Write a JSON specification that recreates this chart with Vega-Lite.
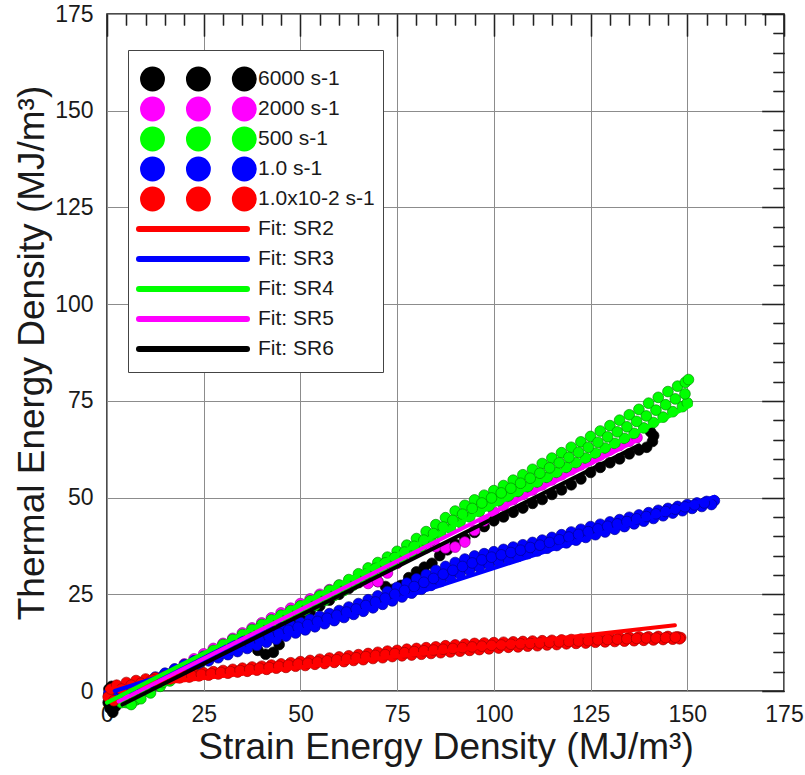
{
  "$schema": "https://vega.github.io/schema/vega-lite/v6.json",
  "width": 677,
  "height": 677,
  "autosize": "none",
  "padding": {"left": 107, "top": 14, "right": 21, "bottom": 84},
  "background": "white",
  "config": {
    "view": {"stroke": "#111", "strokeWidth": 1.5},
    "font": "Liberation Sans",
    "axis": {"domain": false, "labelFont": "Liberation Sans", "titleFont": "Liberation Sans", "labelColor": "#1a1a1a", "titleColor": "#1a1a1a", "tickColor": "#222", "tickWidth": 1.3, "titleFontWeight": "normal"}
  },
  "datasets": {
    "pts": [
      {"s":"6000 s-1","x":0.3,"y":-3},{"s":"6000 s-1","x":0.8,"y":-4.5},{"s":"6000 s-1","x":1.5,"y":-5.5},{"s":"6000 s-1","x":2.2,"y":-4},{"s":"6000 s-1","x":2.6,"y":-1.5},{"s":"6000 s-1","x":2.2,"y":0.8},{"s":"6000 s-1","x":1.2,"y":1.2},{"s":"6000 s-1","x":0.5,"y":0.5},{"s":"6000 s-1","x":5,"y":0.5},{"s":"6000 s-1","x":7.5,"y":0.3},{"s":"6000 s-1","x":10.5,"y":0.2},{"s":"6000 s-1","x":12.5,"y":1.5},{"s":"6000 s-1","x":15,"y":3},{"s":"6000 s-1","x":17.5,"y":4.5},{"s":"6000 s-1","x":20,"y":6},{"s":"6000 s-1","x":22.5,"y":7.5},{"s":"6000 s-1","x":25,"y":9},{"s":"6000 s-1","x":27.5,"y":10.5},{"s":"6000 s-1","x":30,"y":12},{"s":"6000 s-1","x":32.5,"y":13},{"s":"6000 s-1","x":35,"y":14},{"s":"6000 s-1","x":36.5,"y":14.5},{"s":"6000 s-1","x":37.5,"y":12.5},{"s":"6000 s-1","x":39,"y":10.5},{"s":"6000 s-1","x":41,"y":9.5},{"s":"6000 s-1","x":43,"y":10},{"s":"6000 s-1","x":44.5,"y":12},{"s":"6000 s-1","x":46,"y":14.5},{"s":"6000 s-1","x":47.5,"y":16.5},{"s":"6000 s-1","x":49,"y":18.5},{"s":"6000 s-1","x":50,"y":19.5},{"s":"6000 s-1","x":52.5,"y":20.5},{"s":"6000 s-1","x":55,"y":22},{"s":"6000 s-1","x":57.5,"y":23.5},{"s":"6000 s-1","x":60,"y":25},{"s":"6000 s-1","x":62.5,"y":26.5},{"s":"6000 s-1","x":65,"y":28},{"s":"6000 s-1","x":67.5,"y":28.8},{"s":"6000 s-1","x":70,"y":28.3},{"s":"6000 s-1","x":72,"y":27},{"s":"6000 s-1","x":74,"y":26.3},{"s":"6000 s-1","x":76,"y":27.3},{"s":"6000 s-1","x":78,"y":29.3},{"s":"6000 s-1","x":80,"y":30.8},{"s":"6000 s-1","x":82,"y":32},{"s":"6000 s-1","x":84,"y":33},{"s":"6000 s-1","x":86,"y":35},{"s":"6000 s-1","x":88,"y":36.5},{"s":"6000 s-1","x":90,"y":38},{"s":"6000 s-1","x":92.5,"y":39.5},{"s":"6000 s-1","x":95,"y":41},{"s":"6000 s-1","x":97.5,"y":42.5},{"s":"6000 s-1","x":100,"y":44},{"s":"6000 s-1","x":102.5,"y":45},{"s":"6000 s-1","x":105,"y":46.2},{"s":"6000 s-1","x":107.5,"y":47.3},{"s":"6000 s-1","x":110,"y":48.5},{"s":"6000 s-1","x":112.5,"y":49.5},{"s":"6000 s-1","x":115,"y":50.8},{"s":"6000 s-1","x":117.5,"y":52},{"s":"6000 s-1","x":120,"y":53.3},{"s":"6000 s-1","x":122.5,"y":54.8},{"s":"6000 s-1","x":125,"y":56.5},{"s":"6000 s-1","x":127.5,"y":57.8},{"s":"6000 s-1","x":130,"y":59},{"s":"6000 s-1","x":132.5,"y":60},{"s":"6000 s-1","x":135,"y":61.3},{"s":"6000 s-1","x":137.5,"y":62.3},{"s":"6000 s-1","x":139.5,"y":63},{"s":"6000 s-1","x":141,"y":64.5},{"s":"6000 s-1","x":141.3,"y":66},{"s":"6000 s-1","x":140.5,"y":67},
      {"s":"2000 s-1","x":0.5,"y":-1},{"s":"2000 s-1","x":2.5,"y":-1.5},{"s":"2000 s-1","x":5,"y":-1},{"s":"2000 s-1","x":7.5,"y":-0.5},{"s":"2000 s-1","x":10,"y":0.5},{"s":"2000 s-1","x":12.5,"y":1.5},{"s":"2000 s-1","x":15,"y":4.3},{"s":"2000 s-1","x":17.5,"y":5.6},{"s":"2000 s-1","x":20,"y":7},{"s":"2000 s-1","x":22.5,"y":8.3},{"s":"2000 s-1","x":25,"y":9.6},{"s":"2000 s-1","x":27.5,"y":11},{"s":"2000 s-1","x":30,"y":12.3},{"s":"2000 s-1","x":32.5,"y":13.6},{"s":"2000 s-1","x":35,"y":15},{"s":"2000 s-1","x":37.5,"y":16.3},{"s":"2000 s-1","x":40,"y":17.6},{"s":"2000 s-1","x":42.5,"y":18.9},{"s":"2000 s-1","x":45,"y":20.2},{"s":"2000 s-1","x":47.5,"y":21.4},{"s":"2000 s-1","x":50,"y":22.6},{"s":"2000 s-1","x":52.5,"y":23.8},{"s":"2000 s-1","x":55,"y":25},{"s":"2000 s-1","x":57.5,"y":26.2},{"s":"2000 s-1","x":60,"y":27.3},{"s":"2000 s-1","x":62.5,"y":28.2},{"s":"2000 s-1","x":65,"y":28.5},{"s":"2000 s-1","x":67.5,"y":27.8},{"s":"2000 s-1","x":70,"y":28.3},{"s":"2000 s-1","x":72.5,"y":30.5},{"s":"2000 s-1","x":75,"y":33},{"s":"2000 s-1","x":77.5,"y":35},{"s":"2000 s-1","x":80,"y":36.2},{"s":"2000 s-1","x":82.5,"y":37},{"s":"2000 s-1","x":85,"y":37.3},{"s":"2000 s-1","x":87.5,"y":37},{"s":"2000 s-1","x":90,"y":37.2},{"s":"2000 s-1","x":92.5,"y":38.5},{"s":"2000 s-1","x":95,"y":41.5},{"s":"2000 s-1","x":97.5,"y":44},{"s":"2000 s-1","x":100,"y":46.3},{"s":"2000 s-1","x":102.5,"y":48},{"s":"2000 s-1","x":105,"y":49.5},{"s":"2000 s-1","x":107.5,"y":50.8},{"s":"2000 s-1","x":110,"y":52},{"s":"2000 s-1","x":112.5,"y":53.3},{"s":"2000 s-1","x":115,"y":54.6},{"s":"2000 s-1","x":117.5,"y":55.9},{"s":"2000 s-1","x":120,"y":57.2},{"s":"2000 s-1","x":122.5,"y":58.5},{"s":"2000 s-1","x":125,"y":59.8},{"s":"2000 s-1","x":127.5,"y":61},{"s":"2000 s-1","x":130,"y":62.3},{"s":"2000 s-1","x":132.5,"y":63.5},{"s":"2000 s-1","x":135,"y":64.6},{"s":"2000 s-1","x":137,"y":65.5},
      {"s":"500 s-1","x":0.5,"y":-1},{"s":"500 s-1","x":2.5,"y":-2},{"s":"500 s-1","x":5,"y":-3},{"s":"500 s-1","x":7.5,"y":-2.3},{"s":"500 s-1","x":10,"y":0},{"s":"500 s-1","x":12.5,"y":1.8},{"s":"500 s-1","x":15,"y":3.2},{"s":"500 s-1","x":17.5,"y":4.6},{"s":"500 s-1","x":20,"y":6},{"s":"500 s-1","x":22.5,"y":7.5},{"s":"500 s-1","x":25,"y":9},{"s":"500 s-1","x":27.5,"y":10.5},{"s":"500 s-1","x":30,"y":12},{"s":"500 s-1","x":32.5,"y":13.3},{"s":"500 s-1","x":35,"y":14.6},{"s":"500 s-1","x":37.5,"y":15.9},{"s":"500 s-1","x":40,"y":17.2},{"s":"500 s-1","x":42.5,"y":18.4},{"s":"500 s-1","x":45,"y":19.6},{"s":"500 s-1","x":47.5,"y":20.8},{"s":"500 s-1","x":50,"y":22},{"s":"500 s-1","x":52.5,"y":23.3},{"s":"500 s-1","x":55,"y":24.6},{"s":"500 s-1","x":57.5,"y":26},{"s":"500 s-1","x":60,"y":27.4},{"s":"500 s-1","x":62.5,"y":28.8},{"s":"500 s-1","x":65,"y":30.3},{"s":"500 s-1","x":67.5,"y":31.8},{"s":"500 s-1","x":70,"y":33.2},{"s":"500 s-1","x":72.5,"y":34.6},{"s":"500 s-1","x":75,"y":36.1},{"s":"500 s-1","x":77.5,"y":37.7},{"s":"500 s-1","x":80,"y":39.4},{"s":"500 s-1","x":82.5,"y":41.2},{"s":"500 s-1","x":85,"y":43},{"s":"500 s-1","x":87.5,"y":44.8},{"s":"500 s-1","x":90,"y":46.5},{"s":"500 s-1","x":92.5,"y":48},{"s":"500 s-1","x":95,"y":49.4},{"s":"500 s-1","x":97.5,"y":50.6},{"s":"500 s-1","x":100,"y":51.8},{"s":"500 s-1","x":102.5,"y":53.1},{"s":"500 s-1","x":105,"y":54.5},{"s":"500 s-1","x":107.5,"y":55.9},{"s":"500 s-1","x":110,"y":57.3},{"s":"500 s-1","x":112.5,"y":58.8},{"s":"500 s-1","x":115,"y":60.2},{"s":"500 s-1","x":117.5,"y":61.6},{"s":"500 s-1","x":120,"y":63},{"s":"500 s-1","x":122.5,"y":64.4},{"s":"500 s-1","x":125,"y":65.8},{"s":"500 s-1","x":127.5,"y":67.2},{"s":"500 s-1","x":130,"y":68.6},{"s":"500 s-1","x":132.5,"y":70},{"s":"500 s-1","x":135,"y":71.4},{"s":"500 s-1","x":137.5,"y":72.8},{"s":"500 s-1","x":140,"y":74.4},{"s":"500 s-1","x":142.5,"y":75.9},{"s":"500 s-1","x":145,"y":77.4},{"s":"500 s-1","x":147.5,"y":78.8},{"s":"500 s-1","x":149.5,"y":79.8},{"s":"500 s-1","x":150.3,"y":80.5},
      {"s":"500 s-1","x":1.75,"y":-2},{"s":"500 s-1","x":3.75,"y":-3},{"s":"500 s-1","x":6.25,"y":-3.5},{"s":"500 s-1","x":8.75,"y":-2},{"s":"500 s-1","x":11.25,"y":-0.5},{"s":"500 s-1","x":13.75,"y":1.2},{"s":"500 s-1","x":16.25,"y":2.6},{"s":"500 s-1","x":18.75,"y":4},{"s":"500 s-1","x":21.25,"y":5.4},{"s":"500 s-1","x":23.75,"y":6.8},{"s":"500 s-1","x":26.25,"y":8.2},{"s":"500 s-1","x":28.75,"y":9.6},{"s":"500 s-1","x":31.25,"y":11},{"s":"500 s-1","x":33.75,"y":12.3},{"s":"500 s-1","x":36.25,"y":13.6},{"s":"500 s-1","x":38.75,"y":14.9},{"s":"500 s-1","x":41.25,"y":16.1},{"s":"500 s-1","x":43.75,"y":17.3},{"s":"500 s-1","x":46.25,"y":18.5},{"s":"500 s-1","x":48.75,"y":19.7},{"s":"500 s-1","x":51.25,"y":20.9},{"s":"500 s-1","x":53.75,"y":22.1},{"s":"500 s-1","x":56.25,"y":23.4},{"s":"500 s-1","x":58.75,"y":24.7},{"s":"500 s-1","x":61.25,"y":26},{"s":"500 s-1","x":63.75,"y":27.4},{"s":"500 s-1","x":66.25,"y":28.8},{"s":"500 s-1","x":68.75,"y":30.2},{"s":"500 s-1","x":71.25,"y":31.6},{"s":"500 s-1","x":73.75,"y":33},{"s":"500 s-1","x":76.25,"y":34.4},{"s":"500 s-1","x":78.75,"y":35.8},{"s":"500 s-1","x":81.25,"y":37.3},{"s":"500 s-1","x":83.75,"y":38.9},{"s":"500 s-1","x":86.25,"y":40.5},{"s":"500 s-1","x":88.75,"y":42},{"s":"500 s-1","x":91.25,"y":43.6},{"s":"500 s-1","x":93.75,"y":45},{"s":"500 s-1","x":96.25,"y":46.4},{"s":"500 s-1","x":98.75,"y":47.8},{"s":"500 s-1","x":101.25,"y":49.2},{"s":"500 s-1","x":103.75,"y":50.4},{"s":"500 s-1","x":106.25,"y":51.6},{"s":"500 s-1","x":108.75,"y":52.8},{"s":"500 s-1","x":111.25,"y":54},{"s":"500 s-1","x":113.75,"y":55.2},{"s":"500 s-1","x":116.25,"y":56.5},{"s":"500 s-1","x":118.75,"y":57.8},{"s":"500 s-1","x":121.25,"y":59},{"s":"500 s-1","x":123.75,"y":60.2},{"s":"500 s-1","x":126.25,"y":61.5},{"s":"500 s-1","x":128.75,"y":62.8},{"s":"500 s-1","x":131.25,"y":64},{"s":"500 s-1","x":133.75,"y":65.3},{"s":"500 s-1","x":136.25,"y":66.6},{"s":"500 s-1","x":138.75,"y":68},{"s":"500 s-1","x":141.25,"y":69.4},{"s":"500 s-1","x":143.75,"y":70.8},{"s":"500 s-1","x":146.25,"y":72.2},{"s":"500 s-1","x":148.75,"y":73.5},{"s":"500 s-1","x":150,"y":74.5},
      {"s":"500 s-1","x":14.4,"y":2.2},{"s":"500 s-1","x":16.9,"y":3.6},{"s":"500 s-1","x":19.4,"y":5},{"s":"500 s-1","x":21.9,"y":6.4},{"s":"500 s-1","x":24.4,"y":7.8},{"s":"500 s-1","x":26.9,"y":9.3},{"s":"500 s-1","x":29.4,"y":10.7},{"s":"500 s-1","x":31.9,"y":12.2},{"s":"500 s-1","x":34.4,"y":13.5},{"s":"500 s-1","x":36.9,"y":14.8},{"s":"500 s-1","x":39.4,"y":16.1},{"s":"500 s-1","x":41.9,"y":17.3},{"s":"500 s-1","x":44.4,"y":18.5},{"s":"500 s-1","x":46.9,"y":19.7},{"s":"500 s-1","x":49.4,"y":20.9},{"s":"500 s-1","x":51.9,"y":22.1},{"s":"500 s-1","x":54.4,"y":23.4},{"s":"500 s-1","x":56.9,"y":24.7},{"s":"500 s-1","x":59.4,"y":26},{"s":"500 s-1","x":61.9,"y":27.4},{"s":"500 s-1","x":64.4,"y":28.8},{"s":"500 s-1","x":66.9,"y":30.2},{"s":"500 s-1","x":69.4,"y":31.7},{"s":"500 s-1","x":71.9,"y":33.1},{"s":"500 s-1","x":74.4,"y":34.5},{"s":"500 s-1","x":76.9,"y":35.9},{"s":"500 s-1","x":79.4,"y":37.4},{"s":"500 s-1","x":81.9,"y":39},{"s":"500 s-1","x":84.4,"y":40.7},{"s":"500 s-1","x":86.9,"y":42.4},{"s":"500 s-1","x":89.4,"y":44.1},{"s":"500 s-1","x":91.9,"y":45.7},{"s":"500 s-1","x":94.4,"y":47.2},{"s":"500 s-1","x":96.9,"y":48.6},{"s":"500 s-1","x":99.4,"y":49.9},{"s":"500 s-1","x":101.9,"y":51.2},{"s":"500 s-1","x":104.4,"y":52.4},{"s":"500 s-1","x":106.9,"y":53.7},{"s":"500 s-1","x":109.4,"y":55},{"s":"500 s-1","x":111.9,"y":56.3},{"s":"500 s-1","x":114.4,"y":57.7},{"s":"500 s-1","x":116.9,"y":59},{"s":"500 s-1","x":119.4,"y":60.4},{"s":"500 s-1","x":121.9,"y":61.7},{"s":"500 s-1","x":124.4,"y":63},{"s":"500 s-1","x":126.9,"y":64.3},{"s":"500 s-1","x":129.4,"y":65.7},{"s":"500 s-1","x":131.9,"y":67},{"s":"500 s-1","x":134.4,"y":68.3},{"s":"500 s-1","x":136.9,"y":69.7},{"s":"500 s-1","x":139.4,"y":71.1},{"s":"500 s-1","x":141.9,"y":72.6},{"s":"500 s-1","x":144.4,"y":74},{"s":"500 s-1","x":146.9,"y":75.5},{"s":"500 s-1","x":149.4,"y":76.8},
      {"s":"1.0 s-1","x":0.5,"y":-0.5},{"s":"1.0 s-1","x":2.5,"y":0.2},{"s":"1.0 s-1","x":5,"y":1},{"s":"1.0 s-1","x":7.5,"y":1.8},{"s":"1.0 s-1","x":10,"y":2.7},{"s":"1.0 s-1","x":12.5,"y":3.6},{"s":"1.0 s-1","x":15,"y":4.6},{"s":"1.0 s-1","x":17.5,"y":5.7},{"s":"1.0 s-1","x":20,"y":6.8},{"s":"1.0 s-1","x":22.5,"y":7.8},{"s":"1.0 s-1","x":25,"y":8.8},{"s":"1.0 s-1","x":27.5,"y":9.8},{"s":"1.0 s-1","x":30,"y":10.8},{"s":"1.0 s-1","x":32.5,"y":11.8},{"s":"1.0 s-1","x":35,"y":12.8},{"s":"1.0 s-1","x":37.5,"y":13.7},{"s":"1.0 s-1","x":40,"y":14.6},{"s":"1.0 s-1","x":42.5,"y":15.5},{"s":"1.0 s-1","x":45,"y":16.3},{"s":"1.0 s-1","x":47.5,"y":17},{"s":"1.0 s-1","x":50,"y":17.7},{"s":"1.0 s-1","x":52.5,"y":18.5},{"s":"1.0 s-1","x":55,"y":19.3},{"s":"1.0 s-1","x":57.5,"y":20},{"s":"1.0 s-1","x":60,"y":20.8},{"s":"1.0 s-1","x":62.5,"y":21.7},{"s":"1.0 s-1","x":65,"y":22.6},{"s":"1.0 s-1","x":67.5,"y":23.6},{"s":"1.0 s-1","x":70,"y":24.6},{"s":"1.0 s-1","x":72.5,"y":25.7},{"s":"1.0 s-1","x":75,"y":26.8},{"s":"1.0 s-1","x":77.5,"y":27.9},{"s":"1.0 s-1","x":80,"y":29},{"s":"1.0 s-1","x":82.5,"y":30.1},{"s":"1.0 s-1","x":85,"y":31.2},{"s":"1.0 s-1","x":87.5,"y":32.2},{"s":"1.0 s-1","x":90,"y":33.2},{"s":"1.0 s-1","x":92.5,"y":34.1},{"s":"1.0 s-1","x":95,"y":34.9},{"s":"1.0 s-1","x":97.5,"y":35.5},{"s":"1.0 s-1","x":100,"y":36},{"s":"1.0 s-1","x":102.5,"y":36.6},{"s":"1.0 s-1","x":105,"y":37.2},{"s":"1.0 s-1","x":107.5,"y":37.8},{"s":"1.0 s-1","x":110,"y":38.4},{"s":"1.0 s-1","x":112.5,"y":39},{"s":"1.0 s-1","x":115,"y":39.7},{"s":"1.0 s-1","x":117.5,"y":40.4},{"s":"1.0 s-1","x":120,"y":41.1},{"s":"1.0 s-1","x":122.5,"y":41.8},{"s":"1.0 s-1","x":125,"y":42.5},{"s":"1.0 s-1","x":127.5,"y":43.1},{"s":"1.0 s-1","x":130,"y":43.7},{"s":"1.0 s-1","x":132.5,"y":44.3},{"s":"1.0 s-1","x":135,"y":44.9},{"s":"1.0 s-1","x":137.5,"y":45.5},{"s":"1.0 s-1","x":140,"y":46.1},{"s":"1.0 s-1","x":142.5,"y":46.7},{"s":"1.0 s-1","x":145,"y":47.2},{"s":"1.0 s-1","x":147.5,"y":47.7},{"s":"1.0 s-1","x":150,"y":48.2},{"s":"1.0 s-1","x":152.5,"y":48.6},{"s":"1.0 s-1","x":155,"y":49},{"s":"1.0 s-1","x":157,"y":49.2},
      {"s":"1.0 s-1","x":1.75,"y":-1},{"s":"1.0 s-1","x":3.75,"y":0},{"s":"1.0 s-1","x":6.25,"y":0.7},{"s":"1.0 s-1","x":8.75,"y":1.4},{"s":"1.0 s-1","x":11.25,"y":2.2},{"s":"1.0 s-1","x":13.75,"y":3.1},{"s":"1.0 s-1","x":16.25,"y":4},{"s":"1.0 s-1","x":18.75,"y":5},{"s":"1.0 s-1","x":21.25,"y":6},{"s":"1.0 s-1","x":23.75,"y":7},{"s":"1.0 s-1","x":26.25,"y":7.8},{"s":"1.0 s-1","x":28.75,"y":8.6},{"s":"1.0 s-1","x":31.25,"y":9.4},{"s":"1.0 s-1","x":33.75,"y":10.2},{"s":"1.0 s-1","x":36.25,"y":11},{"s":"1.0 s-1","x":38.75,"y":11.8},{"s":"1.0 s-1","x":41.25,"y":12.6},{"s":"1.0 s-1","x":43.75,"y":13.4},{"s":"1.0 s-1","x":46.25,"y":14.2},{"s":"1.0 s-1","x":48.75,"y":15},{"s":"1.0 s-1","x":51.25,"y":15.8},{"s":"1.0 s-1","x":53.75,"y":16.6},{"s":"1.0 s-1","x":56.25,"y":17.4},{"s":"1.0 s-1","x":58.75,"y":18.2},{"s":"1.0 s-1","x":61.25,"y":19},{"s":"1.0 s-1","x":63.75,"y":19.8},{"s":"1.0 s-1","x":66.25,"y":20.6},{"s":"1.0 s-1","x":68.75,"y":21.5},{"s":"1.0 s-1","x":71.25,"y":22.4},{"s":"1.0 s-1","x":73.75,"y":23.3},{"s":"1.0 s-1","x":76.25,"y":24.3},{"s":"1.0 s-1","x":78.75,"y":25.3},{"s":"1.0 s-1","x":81.25,"y":26.3},{"s":"1.0 s-1","x":83.75,"y":27.3},{"s":"1.0 s-1","x":86.25,"y":28.3},{"s":"1.0 s-1","x":88.75,"y":29.3},{"s":"1.0 s-1","x":91.25,"y":30.3},{"s":"1.0 s-1","x":93.75,"y":31.2},{"s":"1.0 s-1","x":96.25,"y":32},{"s":"1.0 s-1","x":98.75,"y":32.7},{"s":"1.0 s-1","x":101.25,"y":33.4},{"s":"1.0 s-1","x":103.75,"y":34.1},{"s":"1.0 s-1","x":106.25,"y":34.8},{"s":"1.0 s-1","x":108.75,"y":35.5},{"s":"1.0 s-1","x":111.25,"y":36.2},{"s":"1.0 s-1","x":113.75,"y":36.9},{"s":"1.0 s-1","x":116.25,"y":37.6},{"s":"1.0 s-1","x":118.75,"y":38.3},{"s":"1.0 s-1","x":121.25,"y":39},{"s":"1.0 s-1","x":123.75,"y":39.7},{"s":"1.0 s-1","x":126.25,"y":40.4},{"s":"1.0 s-1","x":128.75,"y":41.1},{"s":"1.0 s-1","x":131.25,"y":41.8},{"s":"1.0 s-1","x":133.75,"y":42.5},{"s":"1.0 s-1","x":136.25,"y":43.2},{"s":"1.0 s-1","x":138.75,"y":43.9},{"s":"1.0 s-1","x":141.25,"y":44.6},{"s":"1.0 s-1","x":143.75,"y":45.3},{"s":"1.0 s-1","x":146.25,"y":46},{"s":"1.0 s-1","x":148.75,"y":46.6},{"s":"1.0 s-1","x":151.25,"y":47.2},{"s":"1.0 s-1","x":153.75,"y":47.7},{"s":"1.0 s-1","x":156.25,"y":48.2},
      {"s":"1.0 s-1","x":11.9,"y":2.9},{"s":"1.0 s-1","x":14.4,"y":3.8},{"s":"1.0 s-1","x":16.9,"y":4.8},{"s":"1.0 s-1","x":19.4,"y":5.8},{"s":"1.0 s-1","x":21.9,"y":6.9},{"s":"1.0 s-1","x":24.4,"y":7.9},{"s":"1.0 s-1","x":26.9,"y":8.8},{"s":"1.0 s-1","x":29.4,"y":9.7},{"s":"1.0 s-1","x":31.9,"y":10.6},{"s":"1.0 s-1","x":34.4,"y":11.5},{"s":"1.0 s-1","x":36.9,"y":12.4},{"s":"1.0 s-1","x":39.4,"y":13.2},{"s":"1.0 s-1","x":41.9,"y":14.1},{"s":"1.0 s-1","x":44.4,"y":14.9},{"s":"1.0 s-1","x":46.9,"y":15.7},{"s":"1.0 s-1","x":49.4,"y":16.5},{"s":"1.0 s-1","x":51.9,"y":17.2},{"s":"1.0 s-1","x":54.4,"y":18},{"s":"1.0 s-1","x":56.9,"y":18.8},{"s":"1.0 s-1","x":59.4,"y":19.6},{"s":"1.0 s-1","x":61.9,"y":20.4},{"s":"1.0 s-1","x":64.4,"y":21.2},{"s":"1.0 s-1","x":66.9,"y":22.1},{"s":"1.0 s-1","x":69.4,"y":23},{"s":"1.0 s-1","x":71.9,"y":24},{"s":"1.0 s-1","x":74.4,"y":25},{"s":"1.0 s-1","x":76.9,"y":26},{"s":"1.0 s-1","x":79.4,"y":27},{"s":"1.0 s-1","x":81.9,"y":28.1},{"s":"1.0 s-1","x":84.4,"y":29.1},{"s":"1.0 s-1","x":86.9,"y":30.2},{"s":"1.0 s-1","x":89.4,"y":31.2},{"s":"1.0 s-1","x":91.9,"y":32.2},{"s":"1.0 s-1","x":94.4,"y":33.1},{"s":"1.0 s-1","x":96.9,"y":33.9},{"s":"1.0 s-1","x":99.4,"y":34.6},{"s":"1.0 s-1","x":101.9,"y":35.2},{"s":"1.0 s-1","x":104.4,"y":35.8},{"s":"1.0 s-1","x":106.9,"y":36.4},{"s":"1.0 s-1","x":109.4,"y":37.1},{"s":"1.0 s-1","x":111.9,"y":37.7},{"s":"1.0 s-1","x":114.4,"y":38.4},{"s":"1.0 s-1","x":116.9,"y":39.1},{"s":"1.0 s-1","x":119.4,"y":39.8},{"s":"1.0 s-1","x":121.9,"y":40.5},{"s":"1.0 s-1","x":124.4,"y":41.2},{"s":"1.0 s-1","x":126.9,"y":41.9},{"s":"1.0 s-1","x":129.4,"y":42.6},{"s":"1.0 s-1","x":131.9,"y":43.2},{"s":"1.0 s-1","x":134.4,"y":43.8},{"s":"1.0 s-1","x":136.9,"y":44.5},{"s":"1.0 s-1","x":139.4,"y":45.1},{"s":"1.0 s-1","x":141.9,"y":45.8},{"s":"1.0 s-1","x":144.4,"y":46.4},{"s":"1.0 s-1","x":146.9,"y":47},{"s":"1.0 s-1","x":149.4,"y":47.6},{"s":"1.0 s-1","x":151.9,"y":48.1},{"s":"1.0 s-1","x":154.4,"y":48.6},
      {"s":"1.0x10-2 s-1","x":0.3,"y":-1.5},{"s":"1.0x10-2 s-1","x":1,"y":0.5},{"s":"1.0x10-2 s-1","x":2.5,"y":1.5},{"s":"1.0x10-2 s-1","x":5,"y":2.2},{"s":"1.0x10-2 s-1","x":7.5,"y":2.7},{"s":"1.0x10-2 s-1","x":10,"y":3.1},{"s":"1.0x10-2 s-1","x":12.5,"y":3.4},{"s":"1.0x10-2 s-1","x":15,"y":3.7},{"s":"1.0x10-2 s-1","x":17.5,"y":4},{"s":"1.0x10-2 s-1","x":20,"y":4.2},{"s":"1.0x10-2 s-1","x":22.5,"y":4.5},{"s":"1.0x10-2 s-1","x":25,"y":4.7},{"s":"1.0x10-2 s-1","x":27.5,"y":5},{"s":"1.0x10-2 s-1","x":30,"y":5.3},{"s":"1.0x10-2 s-1","x":32.5,"y":5.6},{"s":"1.0x10-2 s-1","x":35,"y":5.9},{"s":"1.0x10-2 s-1","x":37.5,"y":6.2},{"s":"1.0x10-2 s-1","x":40,"y":6.4},{"s":"1.0x10-2 s-1","x":42.5,"y":6.7},{"s":"1.0x10-2 s-1","x":45,"y":7},{"s":"1.0x10-2 s-1","x":47.5,"y":7.3},{"s":"1.0x10-2 s-1","x":50,"y":7.6},{"s":"1.0x10-2 s-1","x":52.5,"y":7.9},{"s":"1.0x10-2 s-1","x":55,"y":8.2},{"s":"1.0x10-2 s-1","x":57.5,"y":8.5},{"s":"1.0x10-2 s-1","x":60,"y":8.8},{"s":"1.0x10-2 s-1","x":62.5,"y":9.1},{"s":"1.0x10-2 s-1","x":65,"y":9.4},{"s":"1.0x10-2 s-1","x":67.5,"y":9.7},{"s":"1.0x10-2 s-1","x":70,"y":10},{"s":"1.0x10-2 s-1","x":72.5,"y":10.3},{"s":"1.0x10-2 s-1","x":75,"y":10.5},{"s":"1.0x10-2 s-1","x":77.5,"y":10.8},{"s":"1.0x10-2 s-1","x":80,"y":11},{"s":"1.0x10-2 s-1","x":82.5,"y":11.2},{"s":"1.0x10-2 s-1","x":85,"y":11.4},{"s":"1.0x10-2 s-1","x":87.5,"y":11.7},{"s":"1.0x10-2 s-1","x":90,"y":11.9},{"s":"1.0x10-2 s-1","x":92.5,"y":12.1},{"s":"1.0x10-2 s-1","x":95,"y":12.3},{"s":"1.0x10-2 s-1","x":97.5,"y":12.4},{"s":"1.0x10-2 s-1","x":100,"y":12.5},{"s":"1.0x10-2 s-1","x":102.5,"y":12.6},{"s":"1.0x10-2 s-1","x":105,"y":12.7},{"s":"1.0x10-2 s-1","x":107.5,"y":12.8},{"s":"1.0x10-2 s-1","x":110,"y":12.9},{"s":"1.0x10-2 s-1","x":112.5,"y":13},{"s":"1.0x10-2 s-1","x":115,"y":13.1},{"s":"1.0x10-2 s-1","x":117.5,"y":13.2},{"s":"1.0x10-2 s-1","x":120,"y":13.3},{"s":"1.0x10-2 s-1","x":122.5,"y":13.4},{"s":"1.0x10-2 s-1","x":125,"y":13.5},{"s":"1.0x10-2 s-1","x":127.5,"y":13.6},{"s":"1.0x10-2 s-1","x":130,"y":13.7},{"s":"1.0x10-2 s-1","x":132.5,"y":13.8},{"s":"1.0x10-2 s-1","x":135,"y":13.9},{"s":"1.0x10-2 s-1","x":137.5,"y":14},{"s":"1.0x10-2 s-1","x":140,"y":14},{"s":"1.0x10-2 s-1","x":142.5,"y":14.1},{"s":"1.0x10-2 s-1","x":145,"y":14.1},{"s":"1.0x10-2 s-1","x":147.5,"y":14},{"s":"1.0x10-2 s-1","x":148.3,"y":13.8},
      {"s":"1.0x10-2 s-1","x":1.75,"y":-2.5},{"s":"1.0x10-2 s-1","x":3.75,"y":0.5},{"s":"1.0x10-2 s-1","x":6.25,"y":1.5},{"s":"1.0x10-2 s-1","x":8.75,"y":2},{"s":"1.0x10-2 s-1","x":11.25,"y":2.5},{"s":"1.0x10-2 s-1","x":13.75,"y":2.8},{"s":"1.0x10-2 s-1","x":16.25,"y":3.1},{"s":"1.0x10-2 s-1","x":18.75,"y":3.4},{"s":"1.0x10-2 s-1","x":21.25,"y":3.6},{"s":"1.0x10-2 s-1","x":23.75,"y":3.9},{"s":"1.0x10-2 s-1","x":26.25,"y":4.1},{"s":"1.0x10-2 s-1","x":28.75,"y":4.4},{"s":"1.0x10-2 s-1","x":31.25,"y":4.6},{"s":"1.0x10-2 s-1","x":33.75,"y":4.9},{"s":"1.0x10-2 s-1","x":36.25,"y":5.1},{"s":"1.0x10-2 s-1","x":38.75,"y":5.4},{"s":"1.0x10-2 s-1","x":41.25,"y":5.6},{"s":"1.0x10-2 s-1","x":43.75,"y":5.9},{"s":"1.0x10-2 s-1","x":46.25,"y":6.1},{"s":"1.0x10-2 s-1","x":48.75,"y":6.4},{"s":"1.0x10-2 s-1","x":51.25,"y":6.6},{"s":"1.0x10-2 s-1","x":53.75,"y":6.9},{"s":"1.0x10-2 s-1","x":56.25,"y":7.1},{"s":"1.0x10-2 s-1","x":58.75,"y":7.4},{"s":"1.0x10-2 s-1","x":61.25,"y":7.6},{"s":"1.0x10-2 s-1","x":63.75,"y":7.9},{"s":"1.0x10-2 s-1","x":66.25,"y":8.1},{"s":"1.0x10-2 s-1","x":68.75,"y":8.4},{"s":"1.0x10-2 s-1","x":71.25,"y":8.6},{"s":"1.0x10-2 s-1","x":73.75,"y":8.9},{"s":"1.0x10-2 s-1","x":76.25,"y":9.1},{"s":"1.0x10-2 s-1","x":78.75,"y":9.3},{"s":"1.0x10-2 s-1","x":81.25,"y":9.5},{"s":"1.0x10-2 s-1","x":83.75,"y":9.7},{"s":"1.0x10-2 s-1","x":86.25,"y":9.9},{"s":"1.0x10-2 s-1","x":88.75,"y":10.1},{"s":"1.0x10-2 s-1","x":91.25,"y":10.3},{"s":"1.0x10-2 s-1","x":93.75,"y":10.5},{"s":"1.0x10-2 s-1","x":96.25,"y":10.7},{"s":"1.0x10-2 s-1","x":98.75,"y":10.9},{"s":"1.0x10-2 s-1","x":101.25,"y":11.1},{"s":"1.0x10-2 s-1","x":103.75,"y":11.3},{"s":"1.0x10-2 s-1","x":106.25,"y":11.4},{"s":"1.0x10-2 s-1","x":108.75,"y":11.6},{"s":"1.0x10-2 s-1","x":111.25,"y":11.7},{"s":"1.0x10-2 s-1","x":113.75,"y":11.9},{"s":"1.0x10-2 s-1","x":116.25,"y":12},{"s":"1.0x10-2 s-1","x":118.75,"y":12.2},{"s":"1.0x10-2 s-1","x":121.25,"y":12.3},{"s":"1.0x10-2 s-1","x":123.75,"y":12.4},{"s":"1.0x10-2 s-1","x":126.25,"y":12.6},{"s":"1.0x10-2 s-1","x":128.75,"y":12.7},{"s":"1.0x10-2 s-1","x":131.25,"y":12.8},{"s":"1.0x10-2 s-1","x":133.75,"y":12.9},{"s":"1.0x10-2 s-1","x":136.25,"y":13},{"s":"1.0x10-2 s-1","x":138.75,"y":13.1},{"s":"1.0x10-2 s-1","x":141.25,"y":13.2},{"s":"1.0x10-2 s-1","x":143.75,"y":13.3},{"s":"1.0x10-2 s-1","x":146.25,"y":13.4},{"s":"1.0x10-2 s-1","x":148,"y":13.5},
      {"s":"1.0x10-2 s-1","x":11.9,"y":2.9},{"s":"1.0x10-2 s-1","x":14.4,"y":3.2},{"s":"1.0x10-2 s-1","x":16.9,"y":3.5},{"s":"1.0x10-2 s-1","x":19.4,"y":3.8},{"s":"1.0x10-2 s-1","x":21.9,"y":4},{"s":"1.0x10-2 s-1","x":24.4,"y":4.3},{"s":"1.0x10-2 s-1","x":26.9,"y":4.5},{"s":"1.0x10-2 s-1","x":29.4,"y":4.8},{"s":"1.0x10-2 s-1","x":31.9,"y":5},{"s":"1.0x10-2 s-1","x":34.4,"y":5.3},{"s":"1.0x10-2 s-1","x":36.9,"y":5.6},{"s":"1.0x10-2 s-1","x":39.4,"y":5.9},{"s":"1.0x10-2 s-1","x":41.9,"y":6.1},{"s":"1.0x10-2 s-1","x":44.4,"y":6.4},{"s":"1.0x10-2 s-1","x":46.9,"y":6.7},{"s":"1.0x10-2 s-1","x":49.4,"y":7},{"s":"1.0x10-2 s-1","x":51.9,"y":7.2},{"s":"1.0x10-2 s-1","x":54.4,"y":7.5},{"s":"1.0x10-2 s-1","x":56.9,"y":7.8},{"s":"1.0x10-2 s-1","x":59.4,"y":8.1},{"s":"1.0x10-2 s-1","x":61.9,"y":8.3},{"s":"1.0x10-2 s-1","x":64.4,"y":8.6},{"s":"1.0x10-2 s-1","x":66.9,"y":8.9},{"s":"1.0x10-2 s-1","x":69.4,"y":9.2},{"s":"1.0x10-2 s-1","x":71.9,"y":9.4},{"s":"1.0x10-2 s-1","x":74.4,"y":9.7},{"s":"1.0x10-2 s-1","x":76.9,"y":9.9},{"s":"1.0x10-2 s-1","x":79.4,"y":10.2},{"s":"1.0x10-2 s-1","x":81.9,"y":10.4},{"s":"1.0x10-2 s-1","x":84.4,"y":10.6},{"s":"1.0x10-2 s-1","x":86.9,"y":10.8},{"s":"1.0x10-2 s-1","x":89.4,"y":11},{"s":"1.0x10-2 s-1","x":91.9,"y":11.2},{"s":"1.0x10-2 s-1","x":94.4,"y":11.4},{"s":"1.0x10-2 s-1","x":96.9,"y":11.6},{"s":"1.0x10-2 s-1","x":99.4,"y":11.8},{"s":"1.0x10-2 s-1","x":101.9,"y":11.9},{"s":"1.0x10-2 s-1","x":104.4,"y":12.1},{"s":"1.0x10-2 s-1","x":106.9,"y":12.2},{"s":"1.0x10-2 s-1","x":109.4,"y":12.3},{"s":"1.0x10-2 s-1","x":111.9,"y":12.4},{"s":"1.0x10-2 s-1","x":114.4,"y":12.6},{"s":"1.0x10-2 s-1","x":116.9,"y":12.7},{"s":"1.0x10-2 s-1","x":119.4,"y":12.8},{"s":"1.0x10-2 s-1","x":121.9,"y":12.9},{"s":"1.0x10-2 s-1","x":124.4,"y":13},{"s":"1.0x10-2 s-1","x":126.9,"y":13.2},{"s":"1.0x10-2 s-1","x":129.4,"y":13.3},{"s":"1.0x10-2 s-1","x":131.9,"y":13.4},{"s":"1.0x10-2 s-1","x":134.4,"y":13.5},{"s":"1.0x10-2 s-1","x":136.9,"y":13.6},{"s":"1.0x10-2 s-1","x":139.4,"y":13.7},{"s":"1.0x10-2 s-1","x":141.9,"y":13.7},{"s":"1.0x10-2 s-1","x":144.4,"y":13.8},{"s":"1.0x10-2 s-1","x":146.9,"y":13.9}
    ],
    "fits": [
      {"s":"Fit: SR2","x":0,"y":0.5},{"s":"Fit: SR2","x":146.8,"y":17},
      {"s":"Fit: SR3","x":2,"y":0},{"s":"Fit: SR3","x":157,"y":50.2},
      {"s":"Fit: SR4","x":0,"y":-3},{"s":"Fit: SR4","x":150.9,"y":73.9},
      {"s":"Fit: SR5","x":3,"y":-2.7},{"s":"Fit: SR5","x":137,"y":64.8},
      {"s":"Fit: SR6","x":4,"y":-3.5},{"s":"Fit: SR6","x":137.5,"y":63.5}
    ]
  },
  "layer": [
    {
      "data": {"name": "pts"},
      "mark": {"type": "point", "filled": true, "size": 115, "strokeWidth": 0.7, "opacity": 1},
      "encoding": {
        "x": {"field": "x", "type": "quantitative", "scale": {"domain": [0, 175], "nice": false, "zero": false},
          "axis": {"values": [0,25,50,75,100,125,150,175], "ticks": false, "grid": true, "gridColor": "#8c8c8c", "gridWidth": 1, "labelFontSize": 23, "labelPadding": 12, "labelFlush": false, "title": "Strain Energy Density (MJ/m³)", "titleFontSize": 37, "titlePadding": 3}},
        "y": {"field": "y", "type": "quantitative", "scale": {"domain": [0, 175], "nice": false, "zero": false},
          "axis": {"values": [0,25,50,75,100,125,150,175], "ticks": false, "grid": true, "gridColor": "#8c8c8c", "gridWidth": 1, "labelFontSize": 23, "labelPadding": 14, "labelFlush": false, "title": "Thermal Energy Density (MJ/m³)", "titleFontSize": 37, "titlePadding": 3}},
        "color": {"field": "s", "type": "nominal",
          "scale": {"domain": ["6000 s-1","2000 s-1","500 s-1","1.0 s-1","1.0x10-2 s-1","Fit: SR2","Fit: SR3","Fit: SR4","Fit: SR5","Fit: SR6"],
                    "range": ["#000000","#ff00ff","#00ff00","#0000ff","#ff0000","#ff0000","#0000ff","#00ff00","#ff00ff","#000000"]},
          "legend": {
            "orient": "none", "legendX": 21, "legendY": 36, "title": " ", "titleFontSize": 1, "titlePadding": 5,
            "symbolSize": 11664, "labelFontSize": 21, "labelFont": "Liberation Sans", "labelColor": "#1a1a1a", "labelOffset": 8, "labelLimit": 300,
            "strokeColor": "#444", "fillColor": "#ffffff", "padding": 8, "rowPadding": 0, "clipHeight": 30,
            "encoding": {"symbols": {
              "shape": {"value": {"expr": "datum.index < 5 ? 'M-0.925,0A0.175,0.175 0 1,1 -0.575,0A0.175,0.175 0 1,1 -0.925,0ZM-0.075,0A0.175,0.175 0 1,1 0.275,0A0.175,0.175 0 1,1 -0.075,0ZM0.775,0A0.175,0.175 0 1,1 1.125,0A0.175,0.175 0 1,1 0.775,0Z' : 'stroke'"}},
              "fill": {"value": {"expr": "datum.index < 5 ? scale('color', datum.value) : 'transparent'"}},
              "stroke": {"value": {"expr": "datum.index < 5 ? 'transparent' : scale('color', datum.value)"}},
              "strokeWidth": {"value": 6},
              "strokeCap": {"value": "round"},
              "opacity": {"value": 1}
            }}
          }},
        "stroke": {"field": "s", "type": "nominal",
          "scale": {"domain": ["6000 s-1","2000 s-1","500 s-1","1.0 s-1","1.0x10-2 s-1"], "range": ["#000000","#a000a0","#009000","#000090","#a00000"]},
          "legend": null}
      }
    },
    {
      "data": {"name": "fits"},
      "mark": {"type": "line", "strokeWidth": 4, "strokeCap": "round"},
      "encoding": {
        "x": {"field": "x", "type": "quantitative", "scale": {"domain": [0, 175], "nice": false, "zero": false},
          "axis": {"values": [0,25,50,75,100,125,150,175], "labels": false, "grid": false, "tickSize": -22, "title": null}},
        "y": {"field": "y", "type": "quantitative", "scale": {"domain": [0, 175], "nice": false, "zero": false},
          "axis": {"values": [0,25,50,75,100,125,150,175], "labels": false, "grid": false, "tickSize": -22, "title": null}},
        "color": {"field": "s", "type": "nominal",
          "scale": {"domain": ["6000 s-1","2000 s-1","500 s-1","1.0 s-1","1.0x10-2 s-1","Fit: SR2","Fit: SR3","Fit: SR4","Fit: SR5","Fit: SR6"],
                    "range": ["#000000","#ff00ff","#00ff00","#0000ff","#ff0000","#ff0000","#0000ff","#00ff00","#ff00ff","#000000"]}}
      }
    },
    {
      "data": {"name": "fits"},
      "transform": [{"filter": "datum.x > 9999"}],
      "mark": {"type": "point", "opacity": 0},
      "encoding": {
        "x": {"field": "x", "type": "quantitative", "scale": {"domain": [0, 175], "nice": false, "zero": false},
          "axis": {"values": [5,10,15,20,30,35,40,45,55,60,65,70,80,85,90,95,105,110,115,120,130,135,140,145,155,160,165,170], "labels": false, "grid": false, "tickSize": -11, "title": null}},
        "y": {"field": "y", "type": "quantitative", "scale": {"domain": [0, 175], "nice": false, "zero": false},
          "axis": {"values": [5,10,15,20,30,35,40,45,55,60,65,70,80,85,90,95,105,110,115,120,130,135,140,145,155,160,165,170], "labels": false, "grid": false, "tickSize": -11, "title": null}}
      }
    },
    {
      "data": {"name": "fits"},
      "transform": [{"filter": "datum.x > 9999"}],
      "mark": {"type": "point", "opacity": 0},
      "encoding": {
        "x": {"field": "x", "type": "quantitative", "scale": {"domain": [0, 175], "nice": false, "zero": false},
          "axis": {"orient": "top", "values": [0,25,50,75,100,125,150,175], "labels": false, "grid": false, "tickSize": -22, "title": null}},
        "y": {"field": "y", "type": "quantitative", "scale": {"domain": [0, 175], "nice": false, "zero": false},
          "axis": {"orient": "right", "values": [0,25,50,75,100,125,150,175], "labels": false, "grid": false, "tickSize": -22, "title": null}}
      }
    },
    {
      "data": {"name": "fits"},
      "transform": [{"filter": "datum.x > 9999"}],
      "mark": {"type": "point", "opacity": 0},
      "encoding": {
        "x": {"field": "x", "type": "quantitative", "scale": {"domain": [0, 175], "nice": false, "zero": false},
          "axis": {"orient": "top", "values": [5,10,15,20,30,35,40,45,55,60,65,70,80,85,90,95,105,110,115,120,130,135,140,145,155,160,165,170], "labels": false, "grid": false, "tickSize": -11, "title": null}},
        "y": {"field": "y", "type": "quantitative", "scale": {"domain": [0, 175], "nice": false, "zero": false},
          "axis": {"orient": "right", "values": [5,10,15,20,30,35,40,45,55,60,65,70,80,85,90,95,105,110,115,120,130,135,140,145,155,160,165,170], "labels": false, "grid": false, "tickSize": -11, "title": null}}
      }
    }
  ],
  "resolve": {"axis": {"x": "independent", "y": "independent"}}
}
